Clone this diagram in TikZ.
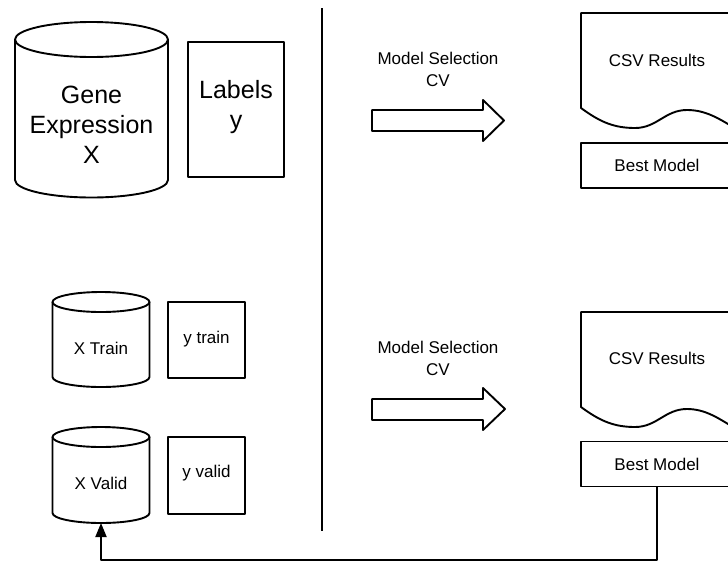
\documentclass[tikz,border=0pt]{standalone}
\usepackage{fontspec}
\setmainfont{Liberation Sans}
\usetikzlibrary{arrows.meta}
\begin{document}
\begin{tikzpicture}[x=1pt,y=-1pt,
  ln/.style={line width=1.9pt,line join=round},
  small/.style={font=\fontsize{17}{22}\selectfont,align=center,inner sep=0pt},
  big/.style={font=\fontsize{25}{30}\selectfont,align=center,inner sep=0pt},
  bestbox/.style={ln,draw,rectangle,minimum width=152pt,minimum height=45pt,inner sep=0pt,font=\fontsize{17}{22}\selectfont},
  flow/.style={ln,-{Triangle[length=14pt,width=11pt]}}]
\useasboundingbox (0,0) rectangle (728,563);
\clip (0,0) rectangle (728,563);

% big cylinder
\draw[ln] (91.5,39.5) ellipse [x radius=76.5, y radius=17.5];
\draw[ln] (15,39.5) -- (15,180) arc[start angle=180,end angle=0,x radius=76.5,y radius=17.5] -- (168,39.5);
\node[big] (gene) at (91.5,125) {Gene\\Expression\\X};

% labels box
\draw[ln] (188,42) rectangle (284,177);
\node[big] (labels) at (236,107) {Labels\\y};

% divider
\coordinate (dtop) at (322,8);
\coordinate (dbot) at (322,531);
\draw[ln] (dtop) -- (dbot);

% small cylinders
\draw[ln] (101,302) ellipse [x radius=48.5, y radius=10];
\draw[ln] (52.5,302) -- (52.5,377) arc[start angle=180,end angle=0,x radius=48.5,y radius=10] -- (149.5,302);
\node[small] (xtrain) at (101,348) {X Train};

\draw[ln] (168,302) rectangle (245,378);
\node[small] (ytrain) at (206.5,339) {y train};

\draw[ln] (101,437) ellipse [x radius=48.5, y radius=10];
\draw[ln] (52.5,437) -- (52.5,513) arc[start angle=180,end angle=0,x radius=48.5,y radius=10] -- (149.5,437);
\node[small] (xvalid) at (101,483) {X Valid};
\coordinate (xvbot) at (101,523);

\draw[ln] (168,437) rectangle (245,514);
\node[small] (yvalid) at (206.5,473) {y valid};

% top block arrow
\node[small] (ms1) at (438,69) {Model Selection\\CV};
\draw[ln] (372,110) -- (483,110) -- (483,100) -- (504,120.5) -- (483,141) -- (483,131) -- (372,131) -- cycle;

% bottom block arrow
\node[small] (ms2) at (438,358) {Model Selection\\CV};
\draw[ln] (372,399) -- (483,399) -- (483,388) -- (505,409) -- (483,430) -- (483,420) -- (372,420) -- cycle;

% top document
\draw[ln] (581,108) -- (581,13) -- (733,13) -- (733,127)
  .. controls (718,118) and (705,110) .. (687,110)
  .. controls (665,110) and (657,128) .. (635,128)
  .. controls (614,128) and (600,122) .. (581,108) -- cycle;
\node[small] (csv1) at (657,60) {CSV Results};
\node[bestbox] (bm1) at (657,165.5) {Best Model};

% bottom document
\draw[ln] (581,407) -- (581,312) -- (733,312) -- (733,427)
  .. controls (718,418) and (705,409) .. (687,409)
  .. controls (665,409) and (657,427) .. (635,427)
  .. controls (614,427) and (600,421) .. (581,407) -- cycle;
\node[small] (csv2) at (657,358) {CSV Results};
\node[bestbox] (bm2) at (657,464) {Best Model};

% feedback connector
\coordinate (turn) at (657,560);
\draw[flow] (bm2.south) -- (turn) -| (xvbot);
\end{tikzpicture}
\end{document}
